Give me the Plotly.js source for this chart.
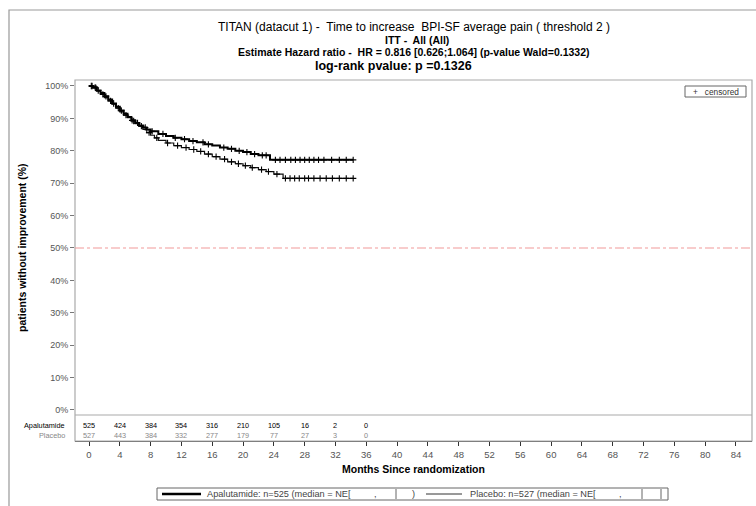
<!DOCTYPE html>
<html>
<head>
<meta charset="utf-8">
<script src="https://cdn.plot.ly/plotly-3.0.1.min.js"></script>
<style>html,body{margin:0;padding:0;background:#fff;}#chart{width:756px;height:506px;}</style>
</head>
<body>
<div id="chart"></div>
<script>
// ---- data ----
var apaTimes = [0, 0.5, 1, 1.5, 2, 2.5, 3, 3.5, 4, 4.5, 5, 5.5, 6, 6.5, 7, 7.5, 8, 9, 10, 11, 12, 13, 14, 15, 16, 17, 18, 19, 20, 21, 22, 23.5, 34.3];
var apaSurv  = [100, 99.6, 98.6, 97.8, 96.8, 95.8, 94.6, 93.6, 92.4, 91.4, 90.4, 89.4, 88.6, 87.8, 87.2, 86.6, 86.0, 85.2, 84.6, 84.0, 83.6, 83.0, 82.6, 82.0, 81.6, 81.0, 80.6, 80.0, 79.6, 79.0, 78.6, 77.2, 77.2];
var plaTimes = [0, 0.5, 1, 1.5, 2, 2.5, 3, 3.5, 4, 4.5, 5, 5.5, 6, 6.5, 7, 7.5, 8, 8.5, 9, 10, 11, 12, 13, 14, 15, 16, 17, 18, 19, 20, 21, 22, 23, 24, 25.2, 34.3];
var plaSurv  = [100, 99.4, 98.4, 97.4, 96.4, 95.4, 94.4, 93.2, 92.0, 91.0, 90.2, 89.2, 88.4, 87.6, 86.6, 85.6, 84.8, 84.0, 83.2, 82.4, 81.6, 81.0, 80.4, 79.8, 79.0, 78.2, 77.4, 76.6, 76.0, 75.4, 74.8, 74.2, 73.6, 72.8, 71.5, 71.5];
var apaCensor = [0.3, 0.8, 1.2, 2.2, 3.2, 4.2, 5.6, 6.3, 7.3, 8.2, 9.6, 11.2, 12.4, 13.5, 14.8, 15.5, 17.5, 18.5, 19.5, 20.5, 21.5, 22.5, 23.0, 24.2, 24.8, 25.5, 26.2, 26.8, 27.4, 28.0, 28.6, 29.2, 29.8, 30.5, 31.5, 32.5, 33.4, 34.3];
var plaCensor = [0.4, 0.9, 1.8, 2.8, 3.8, 4.8, 5.8, 6.8, 7.8, 8.8, 10.2, 11.5, 12.6, 13.6, 14.5, 15.5, 16.5, 17.6, 18.5, 19.4, 20.3, 21.2, 22.4, 23.3, 24.4, 25.5, 26.1, 26.7, 27.3, 28.0, 28.5, 29.2, 30.0, 30.8, 31.6, 32.5, 33.4, 34.3];
var riskTimes = [0, 4, 8, 12, 16, 20, 24, 28, 32, 36];
var apaRisk = [525, 424, 384, 354, 316, 210, 105, 16, 2, 0];
var plaRisk = [527, 443, 384, 332, 277, 179, 77, 27, 3, 0];
var xTicks = [0, 4, 8, 12, 16, 20, 24, 28, 32, 36, 40, 44, 48, 52, 56, 60, 64, 68, 72, 76, 80, 84];
var yTicks = [0, 10, 20, 30, 40, 50, 60, 70, 80, 90, 100];
var titleLines = [
  "TITAN (datacut 1) -  Time to increase  BPI-SF average pain ( threshold 2 )",
  "ITT -  All (All)",
  "Estimate Hazard ratio -  HR = 0.816 [0.626;1.064] (p-value Wald=0.1332)",
  "log-rank pvalue: p =0.1326"
];

// ---- helpers ----
var F = "Liberation Sans, Arial, sans-serif";
function PX(x){ return (x - 75) / 677; }
function PY(y){ return (441 - y) / 361; }
function stepAt(times, surv, t){
  var v = surv[0];
  for (var i = 0; i < times.length; i++){ if (times[i] <= t) v = surv[i]; }
  return v;
}

var traces = [
  {x: plaTimes, y: plaSurv, mode: 'lines', line: {shape: 'hv', color: '#111', width: 1.2}, showlegend: false, hoverinfo: 'skip'},
  {x: apaTimes, y: apaSurv, mode: 'lines', line: {shape: 'hv', color: '#000', width: 2}, showlegend: false, hoverinfo: 'skip'},
  {x: plaCensor, y: plaCensor.map(function(t){return stepAt(plaTimes, plaSurv, t);}), mode: 'markers',
   marker: {symbol: 'cross-thin', size: 4.5, line: {width: 1.1, color: '#000'}}, showlegend: false, hoverinfo: 'skip'},
  {x: apaCensor, y: apaCensor.map(function(t){return stepAt(apaTimes, apaSurv, t);}), mode: 'markers',
   marker: {symbol: 'cross-thin', size: 4.5, line: {width: 1.1, color: '#000'}}, showlegend: false, hoverinfo: 'skip'}
];

var ann = [];
var titleY = [27, 40, 52, 66];
var titleX = [414, 417, 414, 393];
var titleFont = [{size: 12, w: 'normal'}, {size: 10.5, w: 'bold'}, {size: 10.5, w: 'bold'}, {size: 12.5, w: 'bold'}];
titleLines.forEach(function(t, i){
  ann.push({text: t, xref: 'paper', yref: 'paper', x: PX(titleX[i]), y: PY(titleY[i]), xanchor: 'center', yanchor: 'middle',
    showarrow: false, font: {family: F, size: titleFont[i].size, color: '#000', weight: titleFont[i].w}});
});
// y-axis title
ann.push({text: 'patients without improvement (%)', xref: 'paper', yref: 'paper', x: PX(22), y: PY(248), textangle: -90,
  xanchor: 'center', yanchor: 'middle', showarrow: false, font: {family: F, size: 10.5, color: '#000', weight: 'bold'}});
// x-axis title
ann.push({text: 'Months Since randomization', xref: 'paper', yref: 'paper', x: PX(413), y: PY(469),
  xanchor: 'center', yanchor: 'middle', showarrow: false, font: {family: F, size: 10.5, color: '#000', weight: 'bold'}});
// at-risk table
ann.push({text: 'Apalutamide', xref: 'paper', yref: 'paper', x: PX(67), y: PY(425.5), xanchor: 'right', yanchor: 'middle',
  showarrow: false, font: {family: F, size: 7.3, color: '#000'}});
ann.push({text: 'Placebo', xref: 'paper', yref: 'paper', x: PX(67), y: PY(435.5), xanchor: 'right', yanchor: 'middle',
  showarrow: false, font: {family: F, size: 7.3, color: '#888'}});
riskTimes.forEach(function(t, i){
  ann.push({text: String(apaRisk[i]), xref: 'x', yref: 'paper', x: t, y: PY(425.5), xanchor: 'center', yanchor: 'middle',
    showarrow: false, font: {family: F, size: 7.3, color: '#000'}});
  ann.push({text: String(plaRisk[i]), xref: 'x', yref: 'paper', x: t, y: PY(435.5), xanchor: 'center', yanchor: 'middle',
    showarrow: false, font: {family: F, size: 7.3, color: '#888'}});
});
// censored legend
ann.push({text: '+&nbsp;&nbsp;&nbsp;censored', xref: 'paper', yref: 'paper', x: PX(715.5), y: PY(91.5), xanchor: 'center', yanchor: 'middle',
  showarrow: false, font: {family: F, size: 8.3, color: '#333'}});
// bottom legend texts
var LF = {family: F, size: 9.2, color: '#444'};
ann.push({text: 'Apalutamide: n=525 (median = NE[', xref: 'paper', yref: 'paper', x: PX(205), y: PY(494), xanchor: 'left', yanchor: 'middle',
  showarrow: false, font: LF});
ann.push({text: ',', xref: 'paper', yref: 'paper', x: PX(375), y: PY(494), xanchor: 'center', yanchor: 'middle',
  showarrow: false, font: LF});
ann.push({text: ')', xref: 'paper', yref: 'paper', x: PX(413), y: PY(494), xanchor: 'center', yanchor: 'middle',
  showarrow: false, font: LF});
ann.push({text: 'Placebo: n=527 (median = NE[', xref: 'paper', yref: 'paper', x: PX(468), y: PY(494), xanchor: 'left', yanchor: 'middle',
  showarrow: false, font: LF});
ann.push({text: ',', xref: 'paper', yref: 'paper', x: PX(620), y: PY(494), xanchor: 'center', yanchor: 'middle',
  showarrow: false, font: LF});

var shapes = [
  // outer figure frame
  {type: 'rect', xref: 'paper', yref: 'paper', x0: PX(9), x1: PX(760), y0: PY(510), y1: PY(10), line: {color: '#999', width: 1.2}},
  // plot frame
  {type: 'rect', xref: 'paper', yref: 'paper', x0: 0, x1: 1, y0: 0, y1: 1, line: {color: '#aaa', width: 1.2}},
  // separator line above at-risk table
  {type: 'line', xref: 'paper', yref: 'paper', x0: 0, x1: 1, y0: PY(415), y1: PY(415), line: {color: '#aaa', width: 1.2}},
  // median 50% reference line
  {type: 'line', xref: 'paper', yref: 'y', x0: 0, x1: 1, y0: 50, y1: 50, line: {color: '#f29a9a', width: 1.2, dash: 'dashdot'}},
  // censored legend box
  {type: 'rect', xref: 'paper', yref: 'paper', x0: PX(685), x1: PX(746), y0: PY(97), y1: PY(86), line: {color: '#666', width: 1}},
  // bottom legend box
  {type: 'rect', xref: 'paper', yref: 'paper', x0: PX(157), x1: PX(668), y0: PY(500), y1: PY(488), line: {color: '#666', width: 1}},
  {type: 'line', xref: 'paper', yref: 'paper', x0: PX(162), x1: PX(201), y0: PY(494), y1: PY(494), line: {color: '#000', width: 2.5}},
  {type: 'line', xref: 'paper', yref: 'paper', x0: PX(426), x1: PX(462), y0: PY(494), y1: PY(494), line: {color: '#333', width: 1}},
  {type: 'line', xref: 'paper', yref: 'paper', x0: PX(396), x1: PX(396), y0: PY(499), y1: PY(489), line: {color: '#666', width: 1}},
  {type: 'line', xref: 'paper', yref: 'paper', x0: PX(642), x1: PX(642), y0: PY(499), y1: PY(489), line: {color: '#666', width: 1}},
  {type: 'line', xref: 'paper', yref: 'paper', x0: PX(661), x1: PX(661), y0: PY(499), y1: PY(489), line: {color: '#666', width: 1}}
];

var layout = {
  width: 756, height: 506,
  margin: {l: 75, r: 4, t: 80, b: 65},
  paper_bgcolor: '#fff', plot_bgcolor: '#fff',
  showlegend: false,
  xaxis: {range: [-1.818, 86.08], tickmode: 'array', tickvals: xTicks, ticktext: xTicks.map(String),
    ticks: 'outside', ticklen: 4, tickcolor: '#333', showgrid: false, zeroline: false,
    showline: true, linecolor: '#555', linewidth: 1.2,
    tickfont: {family: F, size: 9.5, color: '#555'}},
  yaxis: {range: [-9.57, 101.85], tickmode: 'array', tickvals: yTicks, ticktext: yTicks.map(function(v){return v + '%';}),
    ticks: 'outside', ticklen: 4, tickcolor: '#777', showgrid: false, zeroline: false, showline: false,
    tickfont: {family: F, size: 9, color: '#555'}},
  annotations: ann,
  shapes: shapes
};

Plotly.newPlot('chart', traces, layout, {displayModeBar: false, staticPlot: true});
</script>
</body>
</html>
